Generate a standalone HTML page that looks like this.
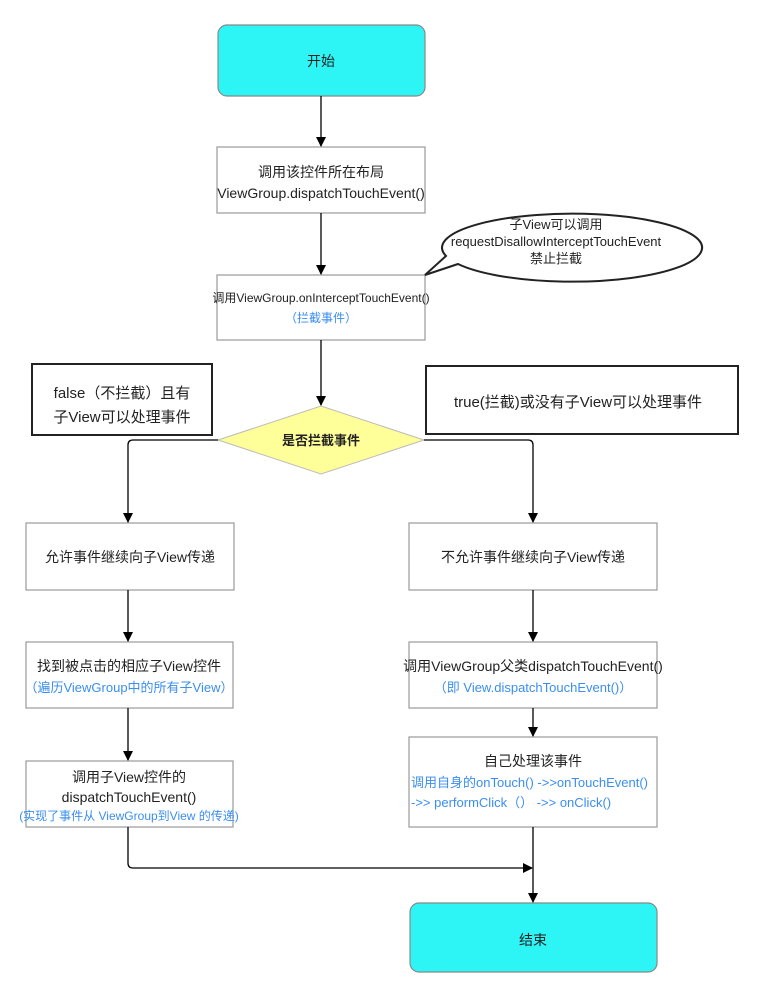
<!DOCTYPE html>
<html><head><meta charset="utf-8"><style>
html,body{margin:0;padding:0;background:#fff;width:766px;height:999px;overflow:hidden}
svg{display:block}
text{font-family:"Liberation Sans","Noto Sans CJK SC",sans-serif;fill:#222;text-anchor:middle}
.b{fill:#3a8ef0}
</style></head><body>
<svg width="766" height="999" viewBox="0 0 766 999" xmlns="http://www.w3.org/2000/svg">
<defs><marker id="a" markerWidth="10" markerHeight="10" refX="9" refY="5" orient="auto" markerUnits="userSpaceOnUse"><path d="M0,0 L10,5 L0,10 z" fill="#000"/></marker></defs>
<g fill="#fff" stroke="#999" stroke-width="1.2">
<rect x="218" y="25" width="207" height="71" rx="9" fill="#2ef5f5" stroke="#888"/>
<rect x="217" y="147" width="208" height="66"/>
<rect x="217" y="275" width="208" height="65"/>
<rect x="26" y="523" width="208" height="67"/>
<rect x="409" y="523" width="248" height="67"/>
<rect x="26" y="642" width="207" height="66"/>
<rect x="409" y="642" width="248" height="66"/>
<rect x="26" y="761" width="207" height="66"/>
<rect x="409" y="737" width="248" height="90"/>
<rect x="410" y="903" width="247" height="69" rx="9" fill="#2ef5f5" stroke="#888"/>
</g>
<g fill="#fff" stroke="#222" stroke-width="2">
<rect x="32" y="364" width="180" height="71"/>
<rect x="426" y="366" width="312" height="68"/>
</g>
<path d="M218,440 L321,406 L424,440 L321,474 Z" fill="#ffff99" stroke="#bbb" stroke-width="1"/>
<path d="M425,275 L458,264 A130,34 0 1,0 446,256 Z" fill="#fff" stroke="#222" stroke-width="2"/>
<g stroke="#000" stroke-width="1.3" fill="none" marker-end="url(#a)">
<line x1="321" y1="96" x2="321" y2="146"/>
<line x1="321" y1="213" x2="321" y2="274"/>
<line x1="321" y1="340" x2="321" y2="405"/>
<path d="M218,440 L133,440 Q128,440 128,445 L128,522"/>
<path d="M424,440 L528,440 Q533,440 533,445 L533,522"/>
<line x1="128" y1="590" x2="128" y2="641"/>
<line x1="533" y1="590" x2="533" y2="641"/>
<line x1="128" y1="708" x2="128" y2="760"/>
<line x1="533" y1="708" x2="533" y2="736"/>
<path d="M128,827 L128,863 Q128,868 133,868 L532,868"/>
<line x1="533" y1="827" x2="533" y2="902"/>
</g>
<text x="321" y="66" font-size="14">开始</text>
<text x="321" y="177" font-size="14">调用该控件所在布局</text>
<text x="321" y="198" font-size="14">ViewGroup.dispatchTouchEvent()</text>
<text x="321" y="302" font-size="12">调用ViewGroup.onInterceptTouchEvent()</text>
<text x="321" y="322" font-size="12" class="b">（拦截事件）</text>
<text x="556" y="229" font-size="13">子View可以调用</text>
<text x="556" y="246" font-size="13">requestDisallowInterceptTouchEvent</text>
<text x="556" y="263" font-size="13">禁止拦截</text>
<text x="321" y="445" font-size="13" font-weight="bold">是否拦截事件</text>
<text x="122" y="398" font-size="15">false（不拦截）且有</text>
<text x="122" y="422" font-size="15">子View可以处理事件</text>
<text x="578" y="407" font-size="15">true(拦截)或没有子View可以处理事件</text>
<text x="130" y="562" font-size="14">允许事件继续向子View传递</text>
<text x="533" y="562" font-size="14">不允许事件继续向子View传递</text>
<text x="129" y="671" font-size="14">找到被点击的相应子View控件</text>
<text x="129" y="692" font-size="13" class="b">（遍历ViewGroup中的所有子View）</text>
<text x="533" y="671" font-size="14">调用ViewGroup父类dispatchTouchEvent()</text>
<text x="533" y="692" font-size="13" class="b">（即 View.dispatchTouchEvent()）</text>
<text x="129" y="782" font-size="14">调用子View控件的</text>
<text x="129" y="802" font-size="14">dispatchTouchEvent()</text>
<text x="129" y="820" font-size="12" class="b">(实现了事件从 ViewGroup到View 的传递)</text>
<text x="533" y="766" font-size="14">自己处理该事件</text>
<text x="411" y="787" font-size="13" class="b" style="text-anchor:start">调用自身的onTouch() -&gt;&gt;onTouchEvent()</text>
<text x="411" y="807" font-size="13" class="b" style="text-anchor:start">-&gt;&gt; performClick（）  -&gt;&gt; onClick()</text>
<text x="533" y="945" font-size="14">结束</text>
</svg>
</body></html>
